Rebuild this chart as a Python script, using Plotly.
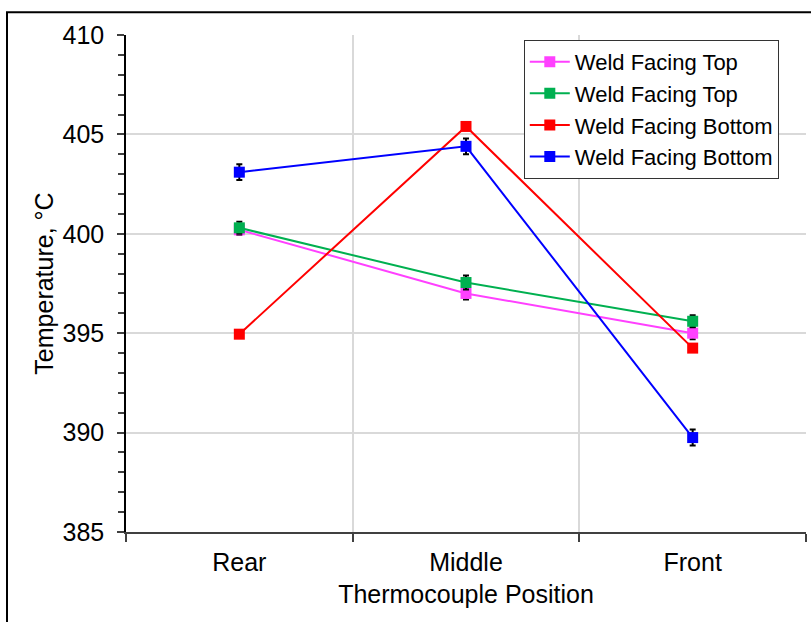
import plotly.graph_objects as go

# Thermocouple positions along the specimen
positions = ["Rear", "Middle", "Front"]

# Mean temperatures (°C) for each run
top_a = [400.2, 397.0, 395.0]
top_b = [400.3, 397.55, 395.6]
bottom_a = [394.95, 405.4, 394.25]
bottom_b = [403.1, 404.4, 389.75]

# Error bar half-widths (°C)
top_a_err = [0.25, 0.3, 0.3]
top_b_err = [0.3, 0.35, 0.3]
bottom_a_err = [0.0, 0.0, 0.0]
bottom_b_err = [0.4, 0.4, 0.4]

series_names = ["Weld Facing Top", "Weld Facing Top", "Weld Facing Bottom", "Weld Facing Bottom"]
series_values = [top_a, top_b, bottom_a, bottom_b]
series_errors = [top_a_err, top_b_err, bottom_a_err, bottom_b_err]
series_colors = ["#ff40ff", "#00b050", "#ff0000", "#0000ff"]

y_ticks = [385, 390, 395, 400, 405, 410]

FONT = "Liberation Sans, Arial, sans-serif"

fig = go.Figure()
for name, vals, errs, color in zip(series_names, series_values, series_errors, series_colors):
    fig.add_trace(go.Scatter(
        x=positions,
        y=vals,
        name=name,
        mode="lines+markers",
        line=dict(color=color, width=2),
        marker=dict(symbol="square", size=11, color=color),
        error_y=dict(type="data", array=errs, visible=any(e > 0 for e in errs),
                     color="black", thickness=2, width=3),
    ))

fig.update_layout(
    width=811,
    height=622,
    margin=dict(l=126, r=5, t=35, b=90),
    paper_bgcolor="white",
    plot_bgcolor="white",
    font=dict(family=FONT, color="black"),
    showlegend=True,
    legend=dict(
        x=0.585, y=0.99, xanchor="left", yanchor="top",
        bgcolor="white", bordercolor="#333333", borderwidth=1,
        font=dict(size=22, family=FONT, color="black"),
        itemwidth=40,
        entrywidth=262,
        entrywidthmode="pixels",
        tracegroupgap=0,
    ),
    xaxis=dict(
        type="category",
        categoryorder="array",
        categoryarray=positions,
        range=[-0.5, 2.5],
        tickson="boundaries",
        ticks="outside",
        ticklen=8,
        tickwidth=1.5,
        tickcolor="#404040",
        showline=True,
        linecolor="#404040",
        linewidth=2,
        showgrid=True,
        gridcolor="#d9d9d9",
        gridwidth=1.5,
        tickfont=dict(size=25, family=FONT),
        ticklabelstandoff=7,
        title=dict(text="Thermocouple Position", font=dict(size=25, family=FONT), standoff=10),
    ),
    yaxis=dict(
        range=[385, 410],
        tickvals=y_ticks,
        ticks="outside",
        ticklen=7,
        tickwidth=1.5,
        tickcolor="#404040",
        minor=dict(dtick=1, ticks="outside", ticklen=6, tickwidth=1.5,
                   tickcolor="#404040", showgrid=False),
        showline=True,
        linecolor="black",
        linewidth=1.5,
        showgrid=True,
        gridcolor="#d9d9d9",
        gridwidth=1.5,
        zeroline=False,
        tickfont=dict(size=25, family=FONT),
        ticklabelstandoff=8,
        title=dict(text="Temperature, °C", font=dict(size=25, family=FONT), standoff=2),
    ),
    shapes=[
        # outer chart frame
        dict(type="rect", xref="paper", yref="paper",
             x0=-0.175, x1=1.05, y0=-0.3, y1=1.046,
             line=dict(color="black", width=2), fillcolor="rgba(0,0,0,0)", layer="above"),
    ],
)

fig.write_html("out.html")
